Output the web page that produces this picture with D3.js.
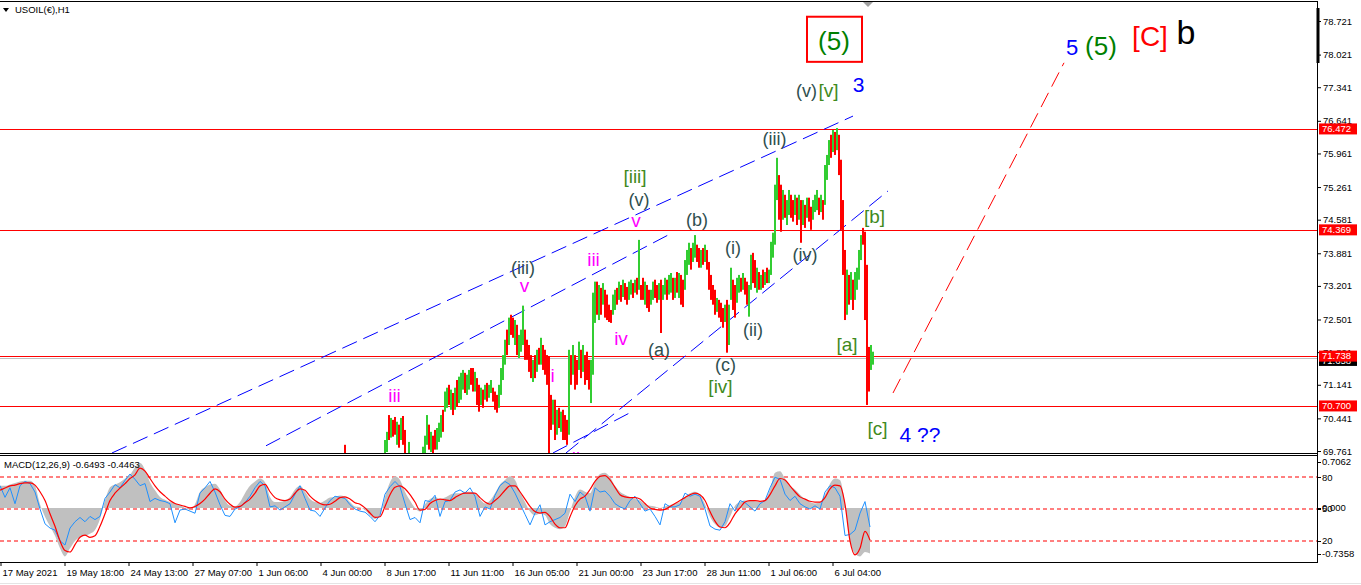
<!DOCTYPE html>
<html><head><meta charset="utf-8">
<script src="https://cdn.jsdelivr.net/npm/d3@7"></script>
<style>body{margin:0;background:#fff;overflow:hidden}svg{display:block}</style>
</head><body>
<script>
// ---------------- DATA ----------------
const symbolTitle = "USOIL(€),H1";
const macdTitle = "MACD(12,26,9) -0.6493 -0.4463";

// H1 price bars (each entry = 2 hourly bars), first visible entry at bar 340
const priceStart = 340, priceStep = 2;
const barHigh = [
69.37,69.41,69.89,69.47,69.54,69.45,69.49,69.54,69.47,69.41,
69.45,69.54,69.58,69.54,69.49,69.45,69.54,69.58,69.54,69.58,
69.62,69.62,69.99,70.16,70.51,70.45,70.41,70.47,70.37,70.31,
70.45,70.49,70.20,69.58,69.95,69.62,69.58,69.54,69.58,69.62,
69.62,69.85,70.08,70.51,70.31,70.16,70.08,70.20,70.24,70.35,
70.51,70.62,71.00,71.08,71.14,71.04,70.97,71.08,71.24,71.31,
71.39,71.45,71.39,71.35,71.45,71.49,71.49,71.41,71.28,71.14,
71.08,71.04,71.14,71.18,71.14,71.24,71.08,71.00,70.93,71.14,
71.49,71.76,72.08,72.29,72.54,72.60,72.54,72.49,72.39,72.18,
72.29,72.79,72.29,72.08,71.97,71.76,71.66,71.76,71.87,71.91,
72.12,71.97,71.87,71.76,71.72,70.93,70.83,70.83,70.62,70.66,
70.58,70.62,70.51,70.41,71.87,71.76,71.97,71.76,71.66,72.04,
71.87,71.97,71.76,71.83,71.66,71.66,73.06,73.29,73.29,73.22,
73.16,73.26,73.12,73.02,72.81,72.70,73.02,73.12,73.16,73.29,
73.22,73.33,73.26,73.18,73.29,73.33,73.26,73.33,73.37,74.16,
73.22,73.37,73.29,73.22,73.12,73.12,73.29,73.33,73.22,73.26,
73.33,73.22,73.37,73.33,73.43,73.47,73.37,73.37,73.49,73.47,
73.43,73.33,73.74,73.95,74.10,73.99,74.10,74.26,74.06,73.99,
73.95,73.99,74.06,73.95,73.70,73.43,73.22,73.12,72.95,72.91,
72.85,72.74,72.81,72.91,72.81,73.58,73.33,73.22,73.37,73.43,
73.37,73.47,73.37,73.29,73.22,73.85,73.89,73.74,73.58,73.49,
73.43,73.54,73.49,73.58,73.54,74.12,74.31,75.31,75.87,75.51,
75.31,75.20,75.10,74.99,75.20,75.10,74.99,75.10,75.04,75.10,
74.99,74.99,74.89,75.04,75.04,74.85,74.99,75.10,75.20,75.04,
75.10,74.99,75.72,75.93,76.24,76.35,76.45,76.41,76.49,76.35,
75.83,74.99,73.95,73.54,73.43,73.49,73.33,73.49,73.58,73.95,
74.26,74.41,74.33,73.64,71.93,71.97,71.83];
const barLow = [
69.16,69.20,69.58,69.26,69.33,69.24,69.29,69.33,69.26,69.20,
69.24,69.33,69.37,69.33,69.29,69.24,69.33,69.37,69.33,69.37,
69.41,69.41,69.58,69.74,69.99,70.04,70.06,70.10,69.89,69.83,
69.99,69.89,69.58,69.37,69.58,69.37,69.37,69.33,69.37,69.41,
69.45,69.58,69.68,69.89,69.79,69.74,69.62,69.79,69.79,69.95,
70.04,70.16,70.58,70.66,70.72,70.62,70.51,70.62,70.68,70.76,
70.83,71.04,70.97,70.93,71.04,71.14,71.00,71.00,70.72,70.58,
70.72,70.66,70.83,70.79,70.87,70.97,70.79,70.62,70.56,70.66,
70.93,71.24,71.56,71.76,71.97,72.18,72.12,71.97,71.76,71.70,
71.83,71.97,71.66,71.66,71.41,71.28,71.20,71.28,71.41,71.56,
71.56,71.45,71.35,71.14,69.58,70.20,70.31,69.99,70.10,70.24,
70.16,69.99,69.99,69.89,70.10,71.14,71.35,71.04,71.14,71.45,
71.28,71.41,71.14,71.24,71.04,70.76,71.35,72.43,72.60,72.49,
72.60,72.81,72.54,72.49,72.45,72.43,72.60,72.70,72.81,72.91,
72.87,72.97,72.91,72.81,72.91,73.02,72.95,73.06,73.02,73.12,
72.91,72.91,72.81,72.74,72.66,72.81,72.91,72.95,72.85,72.91,
72.22,72.91,73.02,72.91,73.02,73.06,72.91,72.95,73.06,72.95,
72.81,72.76,73.12,73.43,73.64,73.54,73.70,73.79,73.70,73.58,
73.58,73.64,73.70,73.54,73.12,72.91,72.81,72.60,72.66,72.54,
72.45,72.33,72.45,71.81,71.97,72.91,72.70,72.54,72.85,73.06,
73.08,73.12,73.02,72.81,72.56,73.12,73.26,73.16,73.06,73.12,
73.12,73.16,73.22,73.26,73.26,73.43,73.79,74.06,74.99,74.58,
74.33,74.58,74.62,74.47,74.68,74.62,74.54,74.68,74.47,74.58,
74.10,74.47,74.41,74.62,74.54,74.37,74.58,74.74,74.78,74.68,
74.74,74.58,74.89,75.41,75.72,75.87,75.99,75.93,76.03,75.51,
74.37,73.43,72.49,72.60,72.81,72.91,72.70,72.91,73.12,73.33,
73.74,74.06,72.49,70.72,71.00,71.45,71.56];
const barUp = [
0,1,0,1,0,0,1,1,0,0, 1,1,1,0,0,1,1,1,0,1, 1,1,1,1,0,1,0,0,1,0,
1,0,0,0,1,0,0,1,1,1, 1,1,1,1,0,1,0,0,1,1, 1,0,1,1,0,1,0,1,0,1,
1,1,0,1,1,0,0,1,0,0, 1,0,1,0,1,1,0,0,0,1, 1,1,1,0,1,0,0,1,0,1,
1,1,0,0,0,0,1,0,1,0, 1,0,0,0,0,0,1,0,1,0, 1,0,0,0,1,0,1,0,0,1,
0,1,0,0,0,1,1,1,0,1, 0,1,0,0,0,0,1,1,0,1, 0,1,0,0,1,1,0,1,0,1,
0,0,1,0,0,1,1,0,0,1, 0,1,1,0,1,1,0,1,0,1, 0,0,1,1,1,0,1,1,0,0,
1,0,1,0,0,0,0,0,1,0, 0,0,1,0,1,1,0,0,1,1, 0,1,0,0,1,1,0,0,1,0,
1,0,1,0,1,1,1,1,1,0, 0,1,0,1,1,0,0,1,0,1, 0,1,0,1,0,0,1,1,1,0,
1,0,1,1,1,0,1,0,1,0, 0,0,0,1,0,1,0,1,1,1, 1,0,0,0,0,1,1];

// MACD window (one value every 5 bars from bar 0)
const macdStep = 5;
const macdHist = [
0.30,0.30,0.32,0.34,0.36,0.37,0.37,0.30,0.05,-0.12,
-0.25,-0.38,-0.55,-0.66,-0.55,-0.45,-0.40,-0.38,-0.35,-0.30,
-0.15,0.10,0.28,0.32,0.35,0.40,0.45,0.55,0.61,0.52,
0.35,0.24,0.15,0.11,0.08,0.06,0.04,0.00,-0.02,0.05,
0.22,0.28,0.32,0.33,0.25,0.10,0.03,0.02,0.08,0.20,
0.30,0.36,0.40,0.35,0.15,0.08,0.08,0.10,0.15,0.25,
0.30,0.22,0.12,0.08,0.07,0.10,0.14,0.15,0.17,0.15,
0.08,0.02,0.01,-0.03,-0.10,-0.15,-0.10,0.15,0.35,0.43,
0.38,0.22,0.10,0.00,-0.05,0.05,0.12,0.15,0.12,0.14,
0.18,0.20,0.20,0.22,0.22,0.20,0.12,0.06,0.10,0.20,
0.32,0.38,0.43,0.38,0.22,0.08,-0.05,-0.10,-0.08,-0.10,
-0.22,-0.27,-0.29,-0.25,-0.05,0.15,0.25,0.22,0.20,0.35,
0.46,0.48,0.42,0.30,0.22,0.18,0.15,0.12,0.10,0.05,
0.03,0.02,0.00,0.02,0.04,0.06,0.08,0.15,0.20,0.22,
0.18,0.05,-0.12,-0.22,-0.27,-0.25,-0.12,0.03,0.08,0.10,
0.10,0.09,0.08,0.10,0.25,0.48,0.50,0.40,0.30,0.25,
0.18,0.12,0.08,0.06,0.08,0.18,0.33,0.40,0.38,0.05,
-0.45,-0.62,-0.66,-0.60,-0.62];
const macdSignal = [
0.24,0.27,0.30,0.31,0.33,0.34,0.34,0.31,0.22,0.10,
-0.08,-0.25,-0.45,-0.58,-0.60,-0.50,-0.40,-0.37,-0.40,-0.38,
-0.25,-0.08,0.10,0.20,0.27,0.33,0.40,0.45,0.54,0.50,
0.40,0.30,0.22,0.16,0.10,0.06,0.04,0.02,0.00,0.02,
0.06,0.12,0.20,0.26,0.22,0.12,0.05,0.01,0.02,0.07,
0.12,0.20,0.30,0.32,0.22,0.14,0.11,0.10,0.12,0.20,
0.26,0.24,0.16,0.10,0.06,0.04,0.05,0.09,0.14,0.15,
0.12,0.07,0.05,0.00,-0.07,-0.13,-0.12,0.02,0.18,0.28,
0.30,0.26,0.18,0.08,-0.03,-0.02,0.06,0.10,0.12,0.11,
0.10,0.14,0.18,0.20,0.20,0.20,0.14,0.08,0.05,0.10,
0.16,0.24,0.30,0.30,0.22,0.12,0.02,-0.05,-0.07,-0.06,
-0.12,-0.22,-0.27,-0.27,-0.12,0.03,0.12,0.16,0.25,0.36,
0.43,0.44,0.38,0.28,0.18,0.15,0.14,0.14,0.12,0.06,
0.00,-0.02,-0.03,-0.02,0.02,0.06,0.10,0.14,0.18,0.20,
0.18,0.10,-0.05,-0.18,-0.26,-0.27,-0.20,-0.08,0.00,0.08,
0.10,0.10,0.09,0.10,0.18,0.30,0.40,0.38,0.30,0.22,
0.15,0.12,0.09,0.08,0.08,0.14,0.26,0.31,0.30,0.05,
-0.45,-0.64,-0.55,-0.32,-0.44];
const oscLine = [
72,61,70,55,72,76,74,66,50,36,
32,30,20,16,32,38,42,38,43,40,
43,60,66,73,70,77,83,78,72,74,
57,60,58,57,55,37,49,50,48,46,
65,70,76,66,54,44,43,50,52,56,
62,70,76,72,52,53,49,52,55,64,
72,60,49,48,43,51,58,62,61,60,
54,50,48,47,43,38,44,64,71,76,
71,55,40,42,37,58,57,63,43,57,
58,66,68,65,70,62,43,52,50,63,
72,76,73,65,55,45,35,46,54,35,
38,40,42,46,64,57,66,62,48,70,
66,67,62,55,52,50,58,62,55,48,
50,43,35,55,52,52,54,65,62,64,
62,50,34,31,30,38,55,48,58,56,
52,48,55,58,70,80,78,64,58,62,
55,52,50,53,50,66,72,70,62,25,
26,30,46,57,33];
const oscLevels = [80, 50, 20];

// axes
const priceTicks = [78.721,78.021,77.341,76.641,75.961,75.261,74.581,73.881,73.201,72.501,71.821,71.141,70.441,69.761];
const timeLabels = ["17 May 2021","19 May 18:00","24 May 13:00","27 May 07:00","1 Jun 06:00","4 Jun 00:00","8 Jun 17:00","11 Jun 11:00","16 Jun 05:00","21 Jun 00:00","23 Jun 17:00","28 Jun 11:00","1 Jul 06:00","6 Jul 04:00"];
const timeLabelBars = [0,64,128,192,256,320,384,448,512,576,640,704,768,832];
const macdMax = 0.7062, macdMin = -0.7358;

// horizontal levels and bid
const levelPrices = [76.472, 74.369, 71.738, 70.700];
const bidPrice = 71.69;
const bidLabel = "71.658";

// trend lines [bar1, price1, bar2, price2]
const blueLines = [[112,69.72,853,76.74],[266,69.87,668,74.26],[566,69.72,888,75.18],[553,69.72,632,70.58]];
const projLine = [893,70.97,1064,77.85];

// wave labels
const annText  = ["(5)","(v)","[v]","3","5","(5)","[C]","b","(iii)","(iv)","[b]","[a]","(ii)","[iii]","(v)","v","(b)","(i)","iii","iv","(a)","(c)","[iv]","v","i","iii","ii","(iii)","[c]","4 ??"];
const annBar   = [834,806.5,828.5,858.5,1072,1101,1150,1186,774.5,805,874.5,847,753,635,639,636,697,733,593.5,621,659,725.5,720.5,524.5,552.5,394.5,576,523,877.5,920];
const annPrice = [78.12,77.14,77.14,77.24,78.01,78.01,78.20,78.24,76.14,73.72,74.51,71.85,72.16,75.35,74.87,74.43,74.45,73.87,73.62,71.97,71.74,71.43,70.97,73.08,71.20,70.79,69.47,73.45,70.10,69.95];
const annKind  = ["w5","paren","bracket","blue","blueBig","w5","redC","blackB","paren","paren","bracket","bracket","paren","bracket","paren","minor","paren","paren","minor","minor","paren","paren","bracket","minor","minor","minor","minor","paren","bracket","blue"];
const boxBars = [807,862], boxPrices = [78.81,77.87];

// ---------------- STYLE ----------------
const kindStyle = {
  paren:{size:18,color:"#2f4f4f"}, bracket:{size:19,color:"#3f8a1c"}, minor:{size:19,color:"#ff00ff"},
  blue:{size:21,color:"#0000ff"}, blueBig:{size:22,color:"#0000ff"}, w5:{size:26,color:"#008000"},
  redC:{size:28,color:"#ff0000"}, blackB:{size:34,color:"#000000"}
};
const W=1361,H=585, axisX=1317;
const FONT="'Liberation Sans',Arial,sans-serif";

const svg=d3.select("body").append("svg").attr("width",W).attr("height",H).style("font-family",FONT);
const x=d3.scaleLinear().domain([0,axisX]).range([0,axisX]);
const y=d3.scaleLinear().domain([69.761,78.721]).range([451,21]);
const ym=d3.scaleLinear().domain([macdMin,macdMax]).range([562,456]);
const yo=d3.scaleLinear().domain([0,100]).range([562,456]);

const defs=svg.append("defs");
defs.append("clipPath").attr("id","cm").append("rect").attr("x",0).attr("y",2).attr("width",axisX).attr("height",451);
defs.append("clipPath").attr("id","cd").append("rect").attr("x",0).attr("y",456).attr("width",axisX).attr("height",106);

const main=svg.append("g").attr("clip-path","url(#cm)");
const crisp=v=>Math.round(v)+0.5;

// bid line and levels
main.append("line").attr("x1",0).attr("x2",axisX).attr("y1",crisp(y(bidPrice))).attr("y2",crisp(y(bidPrice))).attr("stroke","#c0c0c0");
main.selectAll(".lvl").data(levelPrices).join("line").attr("x1",0).attr("x2",axisX)
  .attr("y1",d=>crisp(y(d))).attr("y2",d=>crisp(y(d))).attr("stroke","#ff0000");

// trend lines
main.selectAll(".bl").data(blueLines).join("line")
  .attr("x1",d=>x(d[0])).attr("y1",d=>y(d[1])).attr("x2",d=>x(d[2])).attr("y2",d=>y(d[3]))
  .attr("stroke","#0000ff").attr("stroke-width",1).attr("stroke-dasharray","16,7");
main.append("line").attr("x1",x(projLine[0])).attr("y1",y(projLine[1])).attr("x2",x(projLine[2])).attr("y2",y(projLine[3]))
  .attr("stroke","#ff0000").attr("stroke-width",1).attr("stroke-dasharray","16,7");

// bars
const bw=x(priceStep)-x(0);
main.selectAll(".bar").data(barHigh).join("rect")
  .attr("x",(d,i)=>x(priceStart+i*priceStep))
  .attr("width",bw)
  .attr("y",d=>y(d))
  .attr("height",(d,i)=>Math.max(1,y(barLow[i])-y(d)))
  .attr("fill",(d,i)=>barUp[i]?"#32cd32":"#ff0000");

// labels
main.selectAll(".ann").data(annText).join("text")
  .attr("x",(d,i)=>x(annBar[i])).attr("y",(d,i)=>y(annPrice[i]))
  .attr("text-anchor","middle")
  .attr("font-size",(d,i)=>kindStyle[annKind[i]].size+"px")
  .attr("fill",(d,i)=>kindStyle[annKind[i]].color)
  .text(d=>d);
main.append("rect").attr("x",x(boxBars[0])).attr("y",y(boxPrices[0]))
  .attr("width",x(boxBars[1])-x(boxBars[0])).attr("height",y(boxPrices[1])-y(boxPrices[0]))
  .attr("fill","none").attr("stroke","#ff0000").attr("stroke-width",2);

// header
svg.append("path").attr("d","M3,8 L9,8 L6,12 Z").attr("fill","#000");
svg.append("text").attr("x",15).attr("y",13).attr("font-size","9.5px").attr("fill","#000").text(symbolTitle);
// chart shift marker
svg.append("path").attr("d",`M${x(863)},2 L${x(873)},2 L${x(868)},7 Z`).attr("fill","#a0a0a0");

// ---------- MACD window ----------
const sub=svg.append("g").attr("clip-path","url(#cd)");
sub.selectAll(".ol").data(oscLevels).join("line").attr("x1",0).attr("x2",axisX)
  .attr("y1",d=>Math.round(yo(d))).attr("y2",d=>Math.round(yo(d)))
  .attr("stroke","#ff0000").attr("stroke-width",1.2).attr("stroke-dasharray","4,3");
sub.append("path").datum(macdHist)
  .attr("d",d3.area().x((d,i)=>x(i*macdStep)).y0(ym(0)).y1(d=>ym(d)).curve(d3.curveMonotoneX))
  .attr("fill","#c0c0c0");
sub.append("path").datum(oscLine)
  .attr("d",d3.line().x((d,i)=>x(i*macdStep)).y(d=>yo(d)))
  .attr("fill","none").attr("stroke","#1e90ff").attr("stroke-width",1);
sub.append("path").datum(macdSignal)
  .attr("d",d3.line().x((d,i)=>x(i*macdStep)).y(d=>ym(d)).curve(d3.curveMonotoneX))
  .attr("fill","none").attr("stroke","#ff0000").attr("stroke-width",1.2);
svg.append("text").attr("x",4).attr("y",468).attr("font-size","9.5px").attr("fill","#000").text(macdTitle);

// ---------- frames ----------
const fr=svg.append("g").attr("stroke","#000").attr("stroke-width",1);
fr.append("line").attr("x1",0).attr("x2",axisX+1).attr("y1",1.5).attr("y2",1.5);
fr.append("line").attr("x1",0).attr("x2",axisX+1).attr("y1",453.5).attr("y2",453.5);
fr.append("line").attr("x1",0).attr("x2",axisX+1).attr("y1",455.5).attr("y2",455.5);
fr.append("line").attr("x1",0).attr("x2",axisX+1).attr("y1",562.5).attr("y2",562.5);
fr.append("line").attr("x1",axisX+0.5).attr("x2",axisX+0.5).attr("y1",1).attr("y2",563);
svg.append("rect").attr("x",axisX-0.5).attr("y",8).attr("width",3).attr("height",55).attr("fill","#000");
svg.append("line").attr("x1",0).attr("x2",W).attr("y1",583.5).attr("y2",583.5).attr("stroke","#e4e4e4");

// price axis
const pa=svg.append("g").attr("transform",`translate(${axisX},0)`)
  .call(d3.axisRight(y).tickValues(priceTicks).tickFormat(d3.format(".3f")).tickSize(4).tickPadding(2));
pa.select(".domain").remove();
pa.selectAll("line").attr("stroke","#000");
pa.selectAll("text").attr("font-family",FONT).attr("font-size","9.5px").attr("fill","#000");

// bid label + level labels
const bl=svg.append("g");
bl.append("rect").attr("x",axisX+2).attr("y",y(bidPrice)-5.5+2).attr("width",38).attr("height",11).attr("fill","#000");
bl.append("text").attr("x",axisX+5).attr("y",y(bidPrice)+2).attr("dy","0.35em").attr("font-size","9.5px").attr("fill","#fff").text(bidLabel);
const ll=svg.selectAll(".ll").data(levelPrices).join("g");
ll.append("rect").attr("x",axisX+2).attr("y",d=>y(d)-5.5).attr("width",38).attr("height",11).attr("fill","#ff0000");
ll.append("text").attr("x",axisX+5).attr("y",d=>y(d)).attr("dy","0.35em").attr("font-size","9.5px").attr("fill","#fff").text(d=>d3.format(".3f")(d));

// MACD axis
const ma=svg.append("g").attr("font-size","9.5px").attr("fill","#000");
const mlab=[[macdMax.toFixed(4),ym(macdMax)+6,false],["80",yo(80),true],["0.000",ym(0),true],["50",yo(50),false],["20",yo(20),true],[macdMin.toFixed(4),ym(macdMin)-8,false]];
mlab.forEach(([t,yy,tick])=>{
  ma.append("text").attr("x",axisX+5).attr("y",yy).attr("dy","0.35em").text(t);
  ma.append("line").attr("x1",axisX).attr("x2",axisX+4).attr("y1",crisp(yy)).attr("y2",crisp(yy)).attr("stroke","#000");
});

// time axis
const ta=svg.append("g").attr("transform","translate(0,562)")
  .call(d3.axisBottom(x).tickValues(timeLabelBars).tickFormat((d,i)=>timeLabels[i]).tickSize(4).tickPadding(3));
ta.select(".domain").remove();
ta.selectAll("line").attr("stroke","#000").attr("transform","translate(0.5,0)");
ta.selectAll("text").attr("text-anchor","start").attr("dx","2").attr("font-family",FONT).attr("font-size","9.5px").attr("fill","#000");
</script>
</body></html>
